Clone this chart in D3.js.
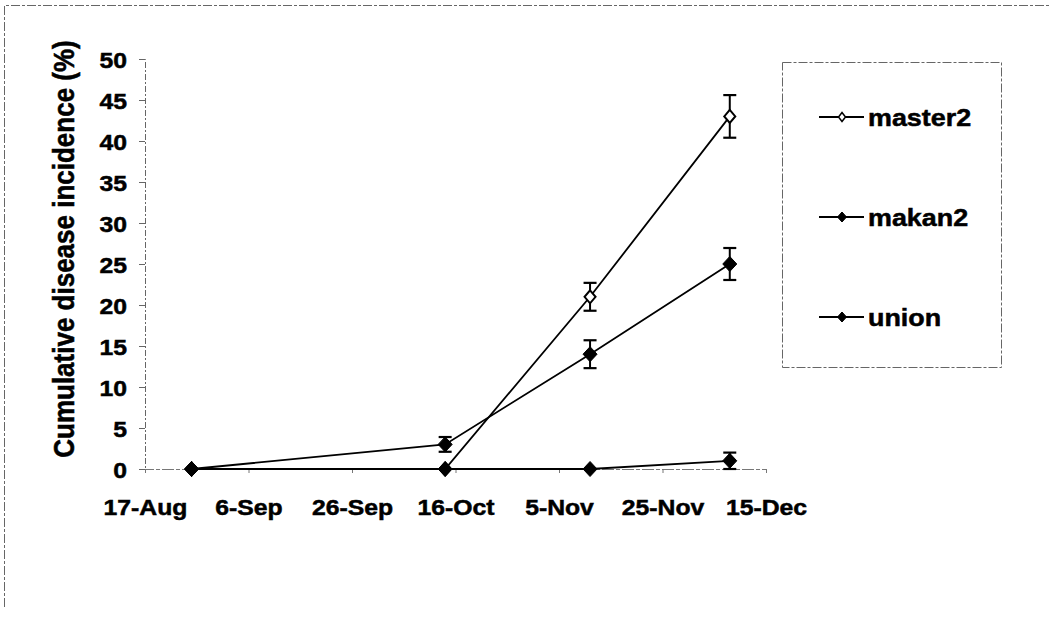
<!DOCTYPE html>
<html>
<head>
<meta charset="utf-8">
<script src="https://cdn.jsdelivr.net/npm/d3@7"></script>
<style>
  html, body { margin: 0; padding: 0; background: #fff; }
  svg { display: block; }
  text { font-family: "Liberation Sans", Arial, sans-serif; font-weight: bold; fill: #000; stroke: #000; stroke-width: 0.5px; }
</style>
</head>
<body>
<svg id="chart" width="1051" height="621"></svg>
<script>
// Sampling dates and cumulative incidence (%) per cultivar
const sampleDates = ["26-Aug", "14-Oct", "11-Nov", "8-Dec"];
const master2 = [0, 0, 21, 43];
const master2Err = [0, 0, 1.7, 2.6];
const makan2 = [0, 3, 14, 25];
const makan2Err = [0, 0.9, 1.7, 1.95];
const union = [0, 0, 0, 1];
const unionErr = [0, 0, 0, 1];

const seriesNames = ["master2", "makan2", "union"];
const xTickLabels = ["17-Aug", "6-Sep", "26-Sep", "16-Oct", "5-Nov", "25-Nov", "15-Dec"];
const yTicks = [0, 5, 10, 15, 20, 25, 30, 35, 40, 45, 50];
const yTitle = "Cumulative disease incidence (%)";

const YEAR = 2003;
const parseDay = s => d3.timeParse("%d-%b-%Y")(s + "-" + YEAR);
const fmtDay = d3.timeFormat("%-d-%b");

const svg = d3.select("#chart");
const STRETCH = 1.1;

// stretch horizontal text a bit wider, like the original print
function widen(sel, k) {
  sel.each(function () {
    const w = this.getComputedTextLength();
    this.setAttribute("textLength", w * k);
    this.setAttribute("lengthAdjust", "spacingAndGlyphs");
  });
}

// outer frame (top and left edges visible)
svg.append("path")
  .attr("d", "M4.5,607 V5.5 H1051")
  .attr("fill", "none")
  .attr("stroke", "#666")
  .attr("stroke-width", 1)
  .attr("stroke-dasharray", "9,2,3,2");

const x = d3.scaleTime()
  .domain([parseDay(xTickLabels[0]), parseDay(xTickLabels[xTickLabels.length - 1])])
  .range([145, 766]);
const y = d3.scaleLinear().domain([0, 50]).range([469, 59]);

// y axis
const yAxis = svg.append("g")
  .attr("transform", "translate(145,0)")
  .call(d3.axisLeft(y).tickValues(yTicks).tickSize(6).tickPadding(12));
yAxis.select(".domain").attr("stroke", "#666").attr("stroke-dasharray", "6,2,2,2");
yAxis.selectAll(".tick line").attr("stroke", "#666");
yAxis.selectAll(".tick text")
  .style("font-size", "22.5px")
  .attr("dy", "0.36em");
widen(yAxis.selectAll(".tick text"), STRETCH);

// x axis
const xAxis = svg.append("g")
  .attr("transform", "translate(0,469)")
  .call(d3.axisBottom(x)
    .tickValues(xTickLabels.map(parseDay))
    .tickFormat(fmtDay)
    .tickSize(4)
    .tickPadding(42));
xAxis.select(".domain").attr("stroke", "#777").attr("stroke-dasharray", "12,2,4,2");
xAxis.selectAll(".tick line").attr("stroke", "#777");
xAxis.selectAll(".tick text")
  .style("font-size", "22.5px")
  .attr("dy", "0");
widen(xAxis.selectAll(".tick text"), STRETCH);

// y axis title
svg.append("text")
  .attr("transform", "translate(74,249) rotate(-90) scale(1,1.1)")
  .attr("text-anchor", "middle")
  .style("font-size", "26px")
  .text(yTitle);

// series
const series = [
  { name: seriesNames[0], values: master2, err: master2Err, open: true },
  { name: seriesNames[1], values: makan2, err: makan2Err, open: false },
  { name: seriesNames[2], values: union, err: unionErr, open: false }
];
const dates = sampleDates.map(parseDay);

const line = d3.line()
  .x((d, i) => x(dates[i]))
  .y(d => y(d));

const diamond = (w, h) => `M0,${-h}L${w},0L0,${h}L${-w},0Z`;

series.forEach(s => {
  const g = svg.append("g");
  g.append("path")
    .attr("d", line(s.values))
    .attr("fill", "none")
    .attr("stroke", "#000")
    .attr("stroke-width", 1.8);

  // error bars
  const eb = g.selectAll(".eb")
    .data(s.values.map((v, i) => ({ v, e: s.err[i], d: dates[i] })).filter(p => p.e > 0))
    .join("g");
  eb.append("line")
    .attr("x1", p => x(p.d)).attr("x2", p => x(p.d))
    .attr("y1", p => y(p.v + p.e)).attr("y2", p => y(p.v - p.e))
    .attr("stroke", "#000").attr("stroke-width", 2);
  eb.append("line")
    .attr("x1", p => x(p.d) - 6.5).attr("x2", p => x(p.d) + 6.5)
    .attr("y1", p => y(p.v + p.e)).attr("y2", p => y(p.v + p.e))
    .attr("stroke", "#000").attr("stroke-width", 2.2);
  eb.append("line")
    .attr("x1", p => x(p.d) - 6.5).attr("x2", p => x(p.d) + 6.5)
    .attr("y1", p => y(p.v - p.e)).attr("y2", p => y(p.v - p.e))
    .attr("stroke", "#000").attr("stroke-width", 2.2);

  g.selectAll(".mk")
    .data(s.values)
    .join("path")
    .attr("transform", (d, i) => `translate(${x(dates[i])},${y(d)})`)
    .attr("d", s.open ? diamond(5.5, 6.5) : diamond(7, 7.5))
    .attr("fill", s.open ? "#fff" : "#000")
    .attr("stroke", "#000")
    .attr("stroke-width", s.open ? 2 : 1);
});

// legend
const legend = svg.append("g");
legend.append("rect")
  .attr("x", 782.5).attr("y", 62.5)
  .attr("width", 219).attr("height", 305)
  .attr("fill", "#fff")
  .attr("stroke", "#666")
  .attr("stroke-dasharray", "9,2,3,2");

const ly = d3.scalePoint().domain(seriesNames).range([117, 317]);
series.forEach(s => {
  const yy = ly(s.name);
  legend.append("line")
    .attr("x1", 819).attr("x2", 864)
    .attr("y1", yy).attr("y2", yy)
    .attr("stroke", "#000").attr("stroke-width", 2);
  legend.append("path")
    .attr("transform", `translate(842,${yy})`)
    .attr("d", s.open ? diamond(3.5, 4.5) : diamond(4.5, 5))
    .attr("fill", s.open ? "#fff" : "#000")
    .attr("stroke", "#000")
    .attr("stroke-width", s.open ? 1.5 : 1);
  const t = legend.append("text")
    .attr("x", 868).attr("y", yy)
    .attr("dy", "0.36em")
    .style("font-size", "24px")
    .text(s.name);
  widen(t, 1.12);
});
</script>
</body>
</html>
